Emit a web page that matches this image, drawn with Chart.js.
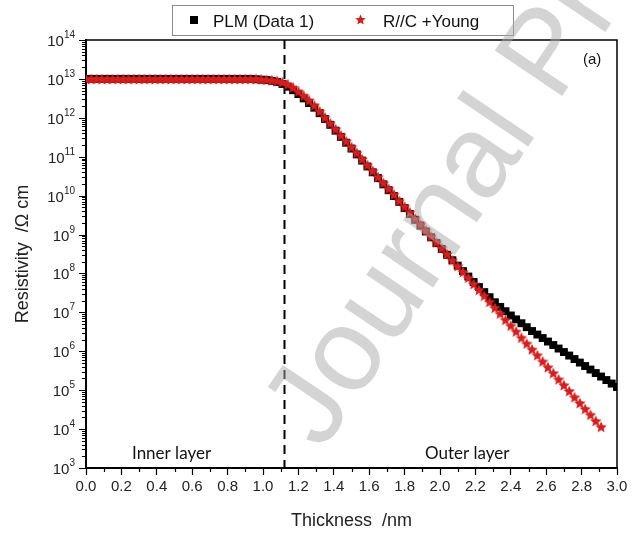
<!DOCTYPE html>
<html>
<head>
<meta charset="utf-8">
<script src="https://cdn.jsdelivr.net/npm/chart.js@4"></script>
<style>
  html, body { margin: 0; padding: 0; background: #fff; }
  #myChart { display: block; }
</style>
</head>
<body>
<canvas id="myChart" width="633" height="536"></canvas>
<script>
'use strict';

// thickness (nm), shared by both series
const thickness = [
  0.00, 0.03, 0.06, 0.09, 0.12, 0.15, 0.18, 0.21, 0.24, 0.27,
  0.30, 0.33, 0.36, 0.39, 0.42, 0.45, 0.48, 0.51, 0.54, 0.57,
  0.60, 0.63, 0.66, 0.69, 0.72, 0.75, 0.78, 0.81, 0.84, 0.87,
  0.90, 0.93, 0.96, 0.99, 1.02, 1.05, 1.08, 1.11, 1.14, 1.17,
  1.20, 1.23, 1.26, 1.29, 1.32, 1.35, 1.38, 1.41, 1.44, 1.47,
  1.50, 1.53, 1.56, 1.59, 1.62, 1.65, 1.68, 1.71, 1.74, 1.77,
  1.80, 1.83, 1.86, 1.89, 1.92, 1.95, 1.98, 2.01, 2.04, 2.07,
  2.10, 2.13, 2.16, 2.19, 2.22, 2.25, 2.28, 2.31, 2.34, 2.37,
  2.40, 2.43, 2.46, 2.49, 2.52, 2.55, 2.58, 2.61, 2.64, 2.67,
  2.70, 2.73, 2.76, 2.79, 2.82, 2.85, 2.88, 2.91, 2.94, 2.97, 3.00
];

// resistivity as log10(Ω cm)
const plmExp = [
  13.00, 13.00, 13.00, 13.00, 13.00, 13.00, 13.00, 13.00, 13.00, 13.00,
  13.00, 13.00, 13.00, 13.00, 13.00, 13.00, 13.00, 13.00, 13.00, 13.00,
  13.00, 13.00, 13.00, 13.00, 13.00, 13.00, 13.00, 13.00, 13.00, 13.00,
  13.00, 13.00, 12.99, 12.98, 12.97, 12.95, 12.92, 12.87, 12.80, 12.71,
  12.61, 12.50, 12.38, 12.26, 12.12, 11.97, 11.82, 11.67, 11.51, 11.36,
  11.21, 11.06, 10.90, 10.75, 10.60, 10.45, 10.29, 10.14, 9.99, 9.84,
  9.68, 9.53, 9.38, 9.23, 9.08, 8.93, 8.78, 8.63, 8.48, 8.34,
  8.20, 8.06, 7.92, 7.78, 7.65, 7.52, 7.39, 7.26, 7.14, 7.03,
  6.92, 6.82, 6.72, 6.62, 6.52, 6.43, 6.34, 6.25, 6.16, 6.07,
  5.98, 5.89, 5.80, 5.71, 5.62, 5.53, 5.44, 5.35, 5.26, 5.17, 5.08
];

const youngExp = [
  13.00, 13.00, 13.00, 13.00, 13.00, 13.00, 13.00, 13.00, 13.00, 13.00,
  13.00, 13.00, 13.00, 13.00, 13.00, 13.00, 13.00, 13.00, 13.00, 13.00,
  13.00, 13.00, 13.00, 13.00, 13.00, 13.00, 13.00, 13.00, 13.00, 13.00,
  13.00, 13.00, 13.00, 12.99, 12.98, 12.97, 12.95, 12.92, 12.86, 12.78,
  12.68, 12.57, 12.45, 12.32, 12.17, 12.01, 11.86, 11.71, 11.55, 11.40,
  11.25, 11.10, 10.94, 10.79, 10.64, 10.48, 10.33, 10.18, 10.03, 9.87,
  9.72, 9.57, 9.41, 9.26, 9.11, 8.95, 8.80, 8.65, 8.50, 8.34,
  8.19, 8.04, 7.89, 7.73, 7.58, 7.43, 7.27, 7.12, 6.97, 6.81,
  6.66, 6.51, 6.35, 6.20, 6.05, 5.90, 5.74, 5.59, 5.44, 5.28,
  5.13, 4.98, 4.82, 4.67, 4.52, 4.37, 4.21, 4.06
];

const yDecades = [3, 4, 5, 6, 7, 8, 9, 10, 11, 12, 13, 14];
const boundary = 1.12;

const RED = '#d61e1e';
const FONT = "'Liberation Sans', Arial, sans-serif";

// filled five-point star for the red markers
function makeStar(size, color) {
  const c = document.createElement('canvas');
  c.width = c.height = size;
  const g = c.getContext('2d');
  g.fillStyle = color;
  g.beginPath();
  for (let i = 0; i < 10; i++) {
    const r = i % 2 ? size * 0.23 : size / 2;
    const a = -Math.PI / 2 + i * Math.PI / 5;
    g.lineTo(size / 2 + r * Math.cos(a), size / 2 + r * Math.sin(a) + size * 0.05);
  }
  g.closePath();
  g.fill();
  return c;
}
const star = makeStar(12, RED);
const legendStar = makeStar(11, RED);

const toPoints = (exps) => exps.map((e, i) => ({ x: thickness[i], y: Math.pow(10, e) }));

const decor = {
  id: 'decor',
  beforeDatasetsDraw(chart) {
    const { ctx, chartArea: a, scales: { x } } = chart;
    const bx = Math.round(x.getPixelForValue(boundary)) + 0.5;
    ctx.save();
    ctx.strokeStyle = '#000';
    ctx.lineWidth = 2;
    ctx.setLineDash([9, 6]);
    ctx.beginPath();
    ctx.moveTo(bx, a.top);
    ctx.lineTo(bx, a.bottom);
    ctx.stroke();
    ctx.restore();
  },
  afterDraw(chart) {
    const { ctx, chartArea: a, scales: { x, y } } = chart;
    ctx.save();

    // frame (top, right)
    ctx.strokeStyle = '#000';
    ctx.lineWidth = 1.5;
    ctx.beginPath();
    ctx.moveTo(a.left, a.top);
    ctx.lineTo(a.right, a.top);
    ctx.lineTo(a.right, a.bottom);
    ctx.stroke();

    // x minor ticks
    ctx.lineWidth = 1.2;
    ctx.beginPath();
    for (let v = 1; v < 30; v += 2) {
      const px = Math.round(x.getPixelForValue(v / 10)) + 0.5;
      ctx.moveTo(px, a.bottom);
      ctx.lineTo(px, a.bottom + 4);
    }
    ctx.stroke();

    // y ticks and labels
    ctx.lineWidth = 1.2;
    ctx.beginPath();
    yDecades.forEach((d, k) => {
      const py = Math.round(y.getPixelForValue(Math.pow(10, d))) + 0.5;
      ctx.moveTo(a.left, py);
      ctx.lineTo(a.left - 7, py);
      if (k < yDecades.length - 1) {
        for (let m = 2; m <= 9; m++) {
          const pm = Math.round(y.getPixelForValue(m * Math.pow(10, d))) + 0.5;
          ctx.moveTo(a.left, pm);
          ctx.lineTo(a.left - 4, pm);
        }
      }
    });
    ctx.stroke();

    ctx.fillStyle = '#222';
    ctx.textBaseline = 'alphabetic';
    ctx.textAlign = 'left';
    yDecades.forEach((d) => {
      const py = y.getPixelForValue(Math.pow(10, d));
      ctx.font = '10px ' + FONT;
      const w2 = ctx.measureText(String(d)).width;
      ctx.font = '15px ' + FONT;
      const w1 = ctx.measureText('10').width;
      const right = a.left - 11;
      ctx.fillText('10', right - w2 - w1, py + 6);
      ctx.font = '10px ' + FONT;
      ctx.fillText(String(d), right - w2, py - 2);
    });

    // annotations
    ctx.font = '15px ' + FONT;
    ctx.fillStyle = '#111';
    ctx.fillText('(a)', 583, 64);
    ctx.font = "17px Lato, 'Open Sans', sans-serif";
    ctx.fillText('Inner layer', 132, 459);
    ctx.fillText('Outer layer', 425, 459);

    // legend box
    ctx.fillStyle = '#fff';
    ctx.fillRect(172, 5, 341, 30);
    ctx.strokeStyle = '#8a8a8a';
    ctx.lineWidth = 1;
    ctx.strokeRect(172.5, 5.5, 341, 30);
    ctx.fillStyle = '#000';
    ctx.fillRect(190, 16, 8, 8);
    ctx.font = '17px ' + FONT;
    ctx.fillStyle = '#111';
    ctx.fillText('PLM (Data 1)', 213, 27);
    ctx.drawImage(legendStar, 355, 14);
    ctx.fillText('R//C +Young', 383, 27);

    // watermark
    ctx.translate(322, 452);
    ctx.rotate(-56 * Math.PI / 180);
    ctx.font = '118px ' + FONT;
    ctx.fillStyle = 'rgba(170,170,170,0.5)';
    ctx.fillText('Journal Pre-proof', 0, 0);

    ctx.restore();
  }
};

const data = {
  datasets: [
    {
      label: 'R//C +Young',
      data: toPoints(youngExp),
      showLine: false,
      pointStyle: star,
      order: 1
    },
    {
      label: 'PLM (Data 1)',
      data: toPoints(plmExp),
      showLine: false,
      pointStyle: 'rect',
      pointRadius: 5.6,
      pointBackgroundColor: '#000',
      pointBorderColor: '#000',
      pointBorderWidth: 0,
      order: 2
    }
  ]
};

const options = {
  responsive: false,
  animation: false,
  devicePixelRatio: 1,
  layout: { padding: { top: 40, right: 16, left: 0, bottom: 0 } },
  plugins: {
    legend: { display: false },
    tooltip: { enabled: false }
  },
  scales: {
    x: {
      type: 'linear',
      min: 0,
      max: 3,
      ticks: {
        stepSize: 0.2,
        callback: (v) => Number(v).toFixed(1),
        font: { family: FONT, size: 15 },
        color: '#222',
        padding: 3,
        maxRotation: 0
      },
      grid: { drawOnChartArea: false, tickLength: 7, color: '#000', tickWidth: 1.2 },
      border: { color: '#000', width: 2 },
      title: {
        display: true,
        text: 'Thickness  /nm',
        font: { family: FONT, size: 18 },
        color: '#222',
        padding: { top: 11 }
      },
      afterFit: (s) => { s.height = 68; }
    },
    y: {
      type: 'logarithmic',
      min: 1e3,
      max: 1e14,
      ticks: { display: false },
      grid: { display: true, drawOnChartArea: false, drawTicks: false },
      border: { color: '#000', width: 2 },
      title: {
        display: true,
        text: 'Resistivity  /Ω cm',
        font: { family: FONT, size: 18 },
        color: '#222',
        padding: { top: 12, bottom: 0 }
      },
      afterFit: (s) => { s.width = 86; }
    }
  }
};

const chart = new Chart(document.getElementById('myChart'), {
  type: 'scatter',
  data: data,
  options: options,
  plugins: [decor]
});
</script>
</body>
</html>
